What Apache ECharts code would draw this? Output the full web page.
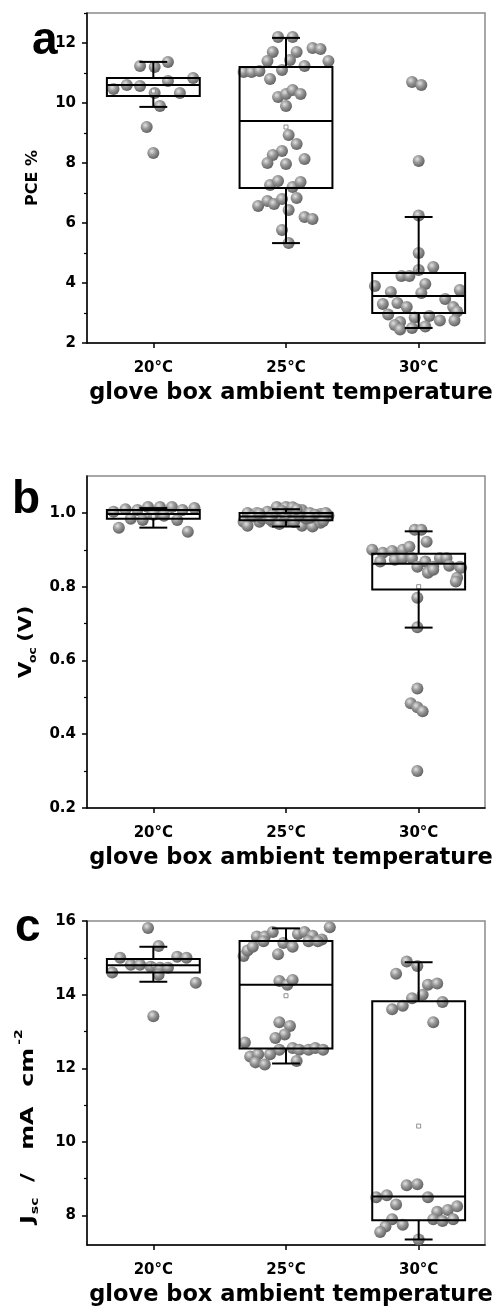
<!DOCTYPE html>
<html>
<head>
<meta charset="utf-8">
<script src="https://cdn.jsdelivr.net/npm/echarts@6/dist/echarts.min.js"></script>
<style>
html,body{margin:0;padding:0;background:#fff;}
#chart{width:500px;height:1314px;}
</style>
</head>
<body>
<div id="chart"></div>
<script>
// ---------- DATA ----------
const categories = ['20°C', '25°C', '30°C'];
const xTitle = 'glove box ambient temperature';

// Panel a: PCE %
const pceTicks = [2, 4, 6, 8, 10, 12];
const pceMinor = [3, 5, 7, 9, 11, 13];
// [whiskerLow, Q1, median, Q3, whiskerHigh]
const pceBox20 = [9.87, 10.23, 10.6, 10.83, 11.37];
const pceBox25 = [5.33, 7.17, 9.4, 11.2, 12.17];
const pceBox30 = [2.5, 3.0, 3.57, 4.33, 6.2];
const pceMean = [10.4, 9.2, 4.4];
const pce20 = [11.23, 11.2, 11.37, 10.47, 10.6, 10.57, 10.33, 10.73, 10.33, 10.83, 9.9, 9.2, 8.33];
const pce20x = [-0.1, 0.01, 0.11, -0.3, -0.2, -0.1, 0.01, 0.11, 0.2, 0.3, 0.05, -0.05, 0];
const pce25 = [12.2, 12.2, 11.7, 11.7, 11.83, 11.8, 11.4, 11.43, 11.23, 11.4, 11.03, 11.03, 11.07, 11.1, 10.8, 10.2, 10.3, 10.43, 10.3, 9.9, 8.93, 8.63, 8.4, 8.27, 8.0, 7.97, 8.13, 7.27, 7.4, 7.2, 7.37, 6.57, 6.73, 6.63, 6.8, 6.83, 6.43, 6.2, 6.13, 5.77, 5.33];
const pce25x = [-0.06, 0.05, -0.1, 0.08, 0.2, 0.26, -0.14, 0.03, 0.14, 0.32, -0.32, -0.26, -0.2, -0.03, -0.12, -0.06, 0, 0.05, 0.11, 0, 0.02, 0.08, -0.03, -0.1, -0.14, 0, 0.14, -0.12, -0.06, 0.05, 0.11, -0.21, -0.14, -0.09, -0.03, 0.08, 0.02, 0.14, 0.2, -0.03, 0.02];
const pce30 = [10.7, 10.6, 8.07, 6.25, 5.0, 4.53, 4.23, 4.23, 4.43, 3.9, 3.7, 3.97, 3.67, 3.47, 3.77, 3.3, 3.33, 3.2, 3.2, 3.05, 2.95, 2.9, 2.85, 2.75, 2.75, 2.7, 2.6, 2.55, 2.5, 2.45];
const pce30x = [-0.05, 0.02, 0, 0, 0, 0.11, -0.13, -0.07, 0, -0.33, -0.21, 0.05, 0.02, 0.2, 0.31, -0.27, -0.16, -0.09, 0.26, 0.29, -0.23, 0.08, -0.03, 0.16, 0.27, -0.14, -0.18, 0.05, -0.05, -0.14];

// Panel b: Voc (V)
const vocTicks = [0.2, 0.4, 0.6, 0.8, 1.0];
const vocMinor = [0.3, 0.5, 0.7, 0.9];
const vocBox20 = [0.96, 0.984, 0.997, 1.008, 1.013];
const vocBox25 = [0.963, 0.98, 0.99, 1.0, 1.01];
const vocBox30 = [0.689, 0.792, 0.862, 0.889, 0.95];
const vocMean = [0.99, 0.99, 0.80];
const voc20 = [1.003, 1.01, 1.008, 1.016, 1.016, 1.016, 1.008, 1.013, 0.984, 0.981, 0.981, 0.96, 0.949, 0.995, 0.992];
const voc20x = [-0.3, -0.21, -0.12, -0.04, 0.05, 0.14, 0.22, 0.31, -0.17, -0.08, 0.18, -0.26, 0.26, 0, 0.08];
const voc25 = [1.0, 1.0, 1.003, 1.016, 1.016, 1.015, 1.008, 1.0, 0.997, 0.992, 0.976, 0.965, 0.976, 0.976, 0.965, 0.963, 0.973, 0.99, 0.985, 0.995, 1.005, 0.98, 0.99, 0.985, 0.995, 1.0, 0.982, 0.988, 0.97, 0.975, 0.993, 0.998, 1.01, 0.987, 0.978];
const voc25x = [-0.29, -0.22, -0.14, -0.07, 0, 0.05, 0.12, 0.18, 0.26, 0.32, -0.32, -0.29, -0.2, -0.1, 0.12, 0.2, 0.26, -0.25, -0.18, -0.1, -0.03, 0.03, 0.08, 0.15, 0.22, 0.3, -0.12, 0.0, -0.05, 0.06, 0.1, -0.2, 0.08, 0.18, 0.28];
const voc30 = [0.954, 0.954, 0.922, 0.9, 0.892, 0.897, 0.9, 0.908, 0.868, 0.873, 0.878, 0.878, 0.868, 0.878, 0.878, 0.854, 0.84, 0.854, 0.857, 0.854, 0.824, 0.838, 0.846, 0.851, 0.814, 0.77, 0.69, 0.524, 0.484, 0.473, 0.462, 0.30];
const voc30x = [-0.03, 0.02, 0.06, -0.35, -0.27, -0.2, -0.12, -0.07, -0.29, -0.18, -0.12, -0.05, 0.05, 0.16, 0.21, -0.01, 0.07, 0.11, 0.23, 0.31, 0.29, 0.07, 0.11, 0.32, 0.28, -0.01, -0.01, -0.01, -0.06, -0.01, 0.03, -0.01];

// Panel c: Jsc / mA cm^-2
const jscTicks = [8, 10, 12, 14, 16];
const jscMinor = [9, 11, 13, 15];
const jscBox20 = [14.35, 14.6, 14.8, 14.97, 15.3];
const jscBox25 = [12.13, 12.54, 14.27, 15.46, 15.8];
const jscBox30 = [7.35, 7.87, 8.52, 13.82, 14.88];
const jscMean = [14.8, 13.97, 10.43];
const jsc20 = [15.81, 15.32, 15.0, 15.03, 15.0, 14.81, 14.81, 14.76, 14.73, 14.73, 14.6, 14.54, 14.32, 13.41];
const jsc20x = [-0.04, 0.04, -0.25, 0.18, 0.25, -0.17, -0.1, -0.02, 0.05, 0.11, -0.31, 0.04, 0.32, 0];
const jsc25 = [15.83, 15.58, 15.58, 15.7, 15.65, 15.7, 15.6, 15.5, 15.05, 15.2, 15.3, 15.45, 15.4, 15.3, 15.1, 15.45, 15.45, 14.37, 14.27, 14.4, 13.25, 13.15, 12.92, 12.82, 12.7, 12.5, 12.55, 12.5, 12.5, 12.55, 12.5, 12.32, 12.38, 12.38, 12.16, 12.1, 12.2];
const jsc25x = [0.33, -0.22, -0.16, -0.1, 0.09, 0.14, 0.2, 0.27, -0.32, -0.29, -0.25, -0.17, -0.02, 0.05, -0.06, 0.17, 0.24, -0.05, 0.01, 0.05, -0.05, 0.03, -0.01, -0.08, -0.31, -0.05, 0.05, 0.1, 0.17, 0.22, 0.28, -0.27, -0.21, -0.12, -0.23, -0.16, 0.08];
const jsc30 = [14.9, 14.78, 14.57, 14.27, 14.3, 14.0, 13.9, 13.7, 13.6, 13.8, 13.25, 8.82, 8.85, 8.5, 8.55, 8.5, 8.3, 8.1, 8.15, 8.25, 7.9, 7.9, 7.85, 7.9, 7.7, 7.55, 7.35, 7.75];
const jsc30x = [-0.09, -0.01, -0.17, 0.07, 0.14, 0.03, -0.05, -0.12, -0.2, 0.18, 0.11, -0.09, -0.01, -0.32, -0.24, 0.07, -0.17, 0.14, 0.22, 0.29, -0.2, 0.11, 0.18, 0.26, -0.25, -0.29, 0, -0.12];

// ---------- CHART ----------
const FONT = '"DejaVu Sans", Verdana, sans-serif';
const LFONT = '"Liberation Sans", Arial, sans-serif';
const chart = echarts.init(document.getElementById('chart'), null, {renderer: 'canvas'});

const panels = [
  {top: 13, height: 330, min: 2, max: 13, ticks: pceTicks, minor: pceMinor, fmt: v => String(v),
   boxes: [pceBox20, pceBox25, pceBox30], mean: pceMean,
   pts: [[pce20, pce20x], [pce25, pce25x], [pce30, pce30x]]},
  {top: 476, height: 332, min: 0.2, max: 1.1, ticks: vocTicks, minor: vocMinor, fmt: v => v.toFixed(1),
   boxes: [vocBox20, vocBox25, vocBox30], mean: vocMean,
   pts: [[voc20, voc20x], [voc25, voc25x], [voc30, voc30x]]},
  {top: 921, height: 324, min: 7.2, max: 16, ticks: jscTicks, minor: jscMinor, fmt: v => String(v),
   boxes: [jscBox20, jscBox25, jscBox30], mean: jscMean,
   pts: [[jsc20, jsc20x], [jsc25, jsc25x], [jsc30, jsc30x]]}
];

const sphere = {
  type: 'radial', x: 0.38, y: 0.35, r: 0.7,
  colorStops: [
    {offset: 0, color: '#e2e2e2'},
    {offset: 0.45, color: '#969696'},
    {offset: 1, color: '#5c5c5c'}
  ]
};

function renderBox(params, api) {
  const c = api.value(0);
  const pMin = api.coord([c, api.value(1)]);
  const pQ1 = api.coord([c, api.value(2)]);
  const pMed = api.coord([c, api.value(3)]);
  const pQ3 = api.coord([c, api.value(4)]);
  const pMax = api.coord([c, api.value(5)]);
  const half = api.size([0.35, 0])[0];
  const cap = api.size([0.105, 0])[0];
  const x = pMed[0];
  const ls = {stroke: '#000', lineWidth: 2, fill: 'none'};
  return {
    type: 'group',
    children: [
      {type: 'line', shape: {x1: x, y1: pQ3[1], x2: x, y2: pMax[1]}, style: ls},
      {type: 'line', shape: {x1: x, y1: pQ1[1], x2: x, y2: pMin[1]}, style: ls},
      {type: 'line', shape: {x1: x - cap, y1: pMax[1], x2: x + cap, y2: pMax[1]}, style: ls},
      {type: 'line', shape: {x1: x - cap, y1: pMin[1], x2: x + cap, y2: pMin[1]}, style: ls},
      {type: 'rect', shape: {x: x - half, y: pQ3[1], width: 2 * half, height: pQ1[1] - pQ3[1]}, style: ls},
      {type: 'line', shape: {x1: x - half, y1: pMed[1], x2: x + half, y2: pMed[1]}, style: ls}
    ]
  };
}

const grids = [], xAxes = [], yAxes = [], series = [];
panels.forEach((p, i) => {
  grids.push({left: 87, width: 398, top: p.top, height: p.height, show: true,
    borderColor: '#8a8a8a', borderWidth: 1.5, backgroundColor: 'transparent'});
  xAxes.push({
    gridIndex: i, type: 'value', min: -0.5, max: 2.5, position: 'bottom',
    axisLine: {show: true, onZero: false, lineStyle: {color: '#000', width: 1.5}},
    axisTick: {show: true, customValues: [0, 1, 2], length: 5, lineStyle: {color: '#000', width: 1.5}},
    axisLabel: {customValues: [0, 1, 2], formatter: v => categories[Math.round(v)],
      color: '#000', fontWeight: 'bold', fontSize: 15, fontFamily: FONT, margin: 18},
    splitLine: {show: false},
    name: xTitle, nameLocation: 'middle', nameGap: 39,
    nameTextStyle: {color: '#000', fontWeight: 'bold', fontSize: 22.5, fontFamily: FONT, padding: [0, 0, 0, 10]}
  });
  yAxes.push({
    gridIndex: i, type: 'value', min: p.min, max: p.max, position: 'left',
    axisLine: {show: true, onZero: false, lineStyle: {color: '#000', width: 1.5}},
    axisTick: {show: true, customValues: p.ticks, length: 5, lineStyle: {color: '#000', width: 1.5}},
    axisLabel: {customValues: p.ticks, formatter: p.fmt, color: '#000', fontWeight: 'bold',
      fontSize: 15, fontFamily: FONT, margin: 11},
    splitLine: {show: false}
  });
  yAxes.push({
    gridIndex: i, type: 'value', min: p.min, max: p.max, position: 'left', offset: 0,
    axisLine: {show: false, onZero: false},
    axisTick: {show: true, customValues: p.minor, length: 3, lineStyle: {color: '#000', width: 1.2}},
    axisLabel: {show: false},
    splitLine: {show: false}
  });
  const yIdx = i * 2;
  const pts = [];
  p.pts.forEach((pair, ci) => {
    pair[0].forEach((v, k) => pts.push([ci + pair[1][k], v]));
  });
  series.push({
    type: 'scatter', xAxisIndex: i, yAxisIndex: yIdx, data: pts,
    symbol: 'circle', symbolSize: 12,
    itemStyle: {color: sphere, opacity: 1}, z: 2, silent: true
  });
  series.push({
    type: 'scatter', xAxisIndex: i, yAxisIndex: yIdx,
    data: p.mean.map((m, ci) => [ci, m]),
    symbol: 'rect', symbolSize: 4,
    itemStyle: {color: '#fff', borderColor: '#777', borderWidth: 1}, z: 3, silent: true
  });
  series.push({
    type: 'custom', xAxisIndex: i, yAxisIndex: yIdx,
    data: p.boxes.map((b, ci) => [ci].concat(b)),
    encode: {x: 0, y: [1, 2, 3, 4, 5]},
    renderItem: renderBox, z: 4, silent: true
  });
});

function t(x, y, s, size, font) {
  return {type: 'text', x: x, y: y,
    style: {text: s, font: 'bold ' + size + 'px ' + (font || FONT), fill: '#000', align: 'left', verticalAlign: 'middle'}};
}

const graphics = [
  t(32, 41, 'a', 46, LFONT),
  t(12, 500, 'b', 46, LFONT),
  t(15, 928, 'c', 46, LFONT),
  {type: 'group', x: 33, y: 178, rotation: Math.PI / 2, children: [
    {type: 'text', x: 0, y: 0, style: {text: 'PCE %', font: 'bold 16px ' + FONT, fill: '#000', align: 'center', verticalAlign: 'middle'}}
  ]},
  {type: 'group', x: 27, y: 678, rotation: Math.PI / 2, scaleX: 1.25, children: [
    t(0, 0, 'V', 17),
    t(12, 6, 'oc', 10),
    t(29, 0, '(V)', 17)
  ]},
  {type: 'group', x: 29, y: 1224, rotation: Math.PI / 2, scaleX: 1.4, children: [
    t(0, 0, 'J', 17),
    t(7, 6, 'sc', 10),
    t(30, 0, '/', 17),
    t(53, 0, 'mA', 17),
    t(98, 0, 'cm', 17),
    t(128, -10, '-2', 10)
  ]}
];

chart.setOption({
  animation: false,
  backgroundColor: '#fff',
  grid: grids,
  xAxis: xAxes,
  yAxis: yAxes,
  series: series,
  graphic: graphics
});
</script>
</body>
</html>
